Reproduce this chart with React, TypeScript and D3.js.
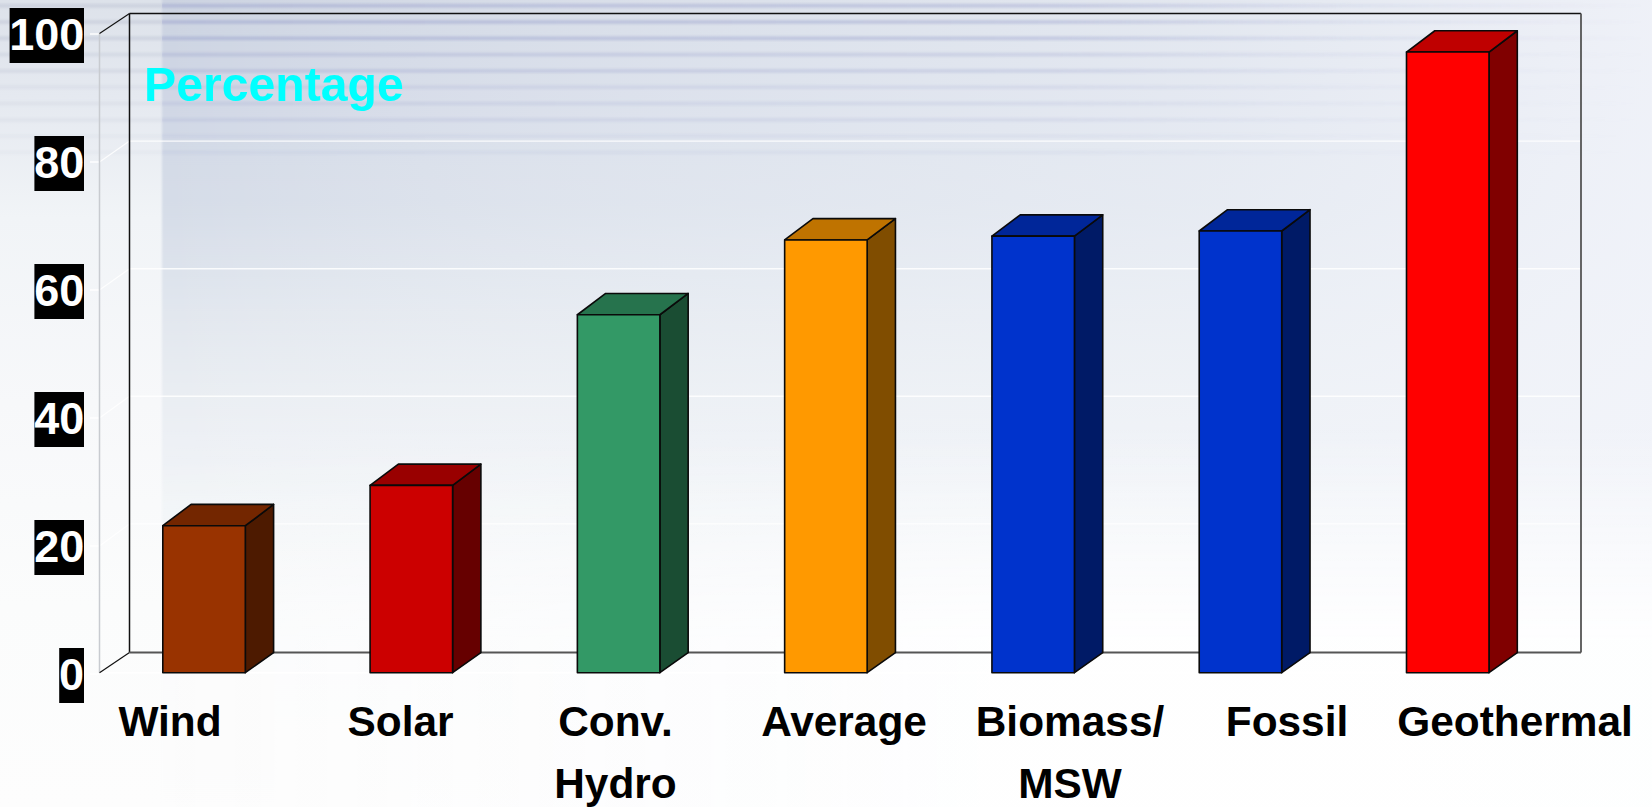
import React from "react";
import * as d3 from "d3";

// Capacity factor style comparison across generation types
const categories = ["Wind", "Solar", "Conv. Hydro", "Average", "Biomass/ MSW", "Fossil", "Geothermal"];
const percentages = [23.0, 29.3, 56.0, 67.7, 68.3, 69.1, 97.1];
const barColors = ["#993300", "#cc0000", "#339966", "#ff9900", "#0033cc", "#0033cc", "#ff0000"];
const tickValues = [0, 20, 40, 60, 80, 100];
const labelLines = [["Wind"], ["Solar"], ["Conv.", "Hydro"], ["Average"], ["Biomass/", "MSW"], ["Fossil"], ["Geothermal"]];
const labelCentres = [170, 400.5, 615.5, 844, 1070, 1287, 1515];

const WIDTH = 1652;
const HEIGHT = 807;
const FONT = "'Liberation Sans', Arial, sans-serif";

// Depth of the 3D box and of the chart walls
const DX = 28.3;
const DY_TOP = 21.3;
const DY_BASE = 20;
const WALL_DX = 30;

const yFront = d3.scaleLinear().domain([0, 100]).range([672.7, 33.5]);
const yTick = d3.scaleLinear().domain([0, 100]).range([674, 34]);
const yBack = d3.scaleLinear().domain([0, 100]).range([651.5, 13.5]);
const x = d3.scaleBand<string>().domain(categories).range([162.8, 1489]).paddingInner(0.602).paddingOuter(0);

const polygon = d3.line<[number, number]>().curve(d3.curveLinearClosed);
const shade = (c: string, k: number) => {
  const rgb = d3.rgb(c);
  return d3.rgb(rgb.r * k, rgb.g * k, rgb.b * k).formatHex();
};

// Banding across the top of the slide backdrop
const streakRows = d3.range(0, 10).map((i) => ({
  y: 5.7 + i * 16.3,
  strength: i < 3 ? 0.9 : i < 5 ? 0.62 : i < 8 ? 0.38 : 0.22,
}));

function Backdrop() {
  return (
    <g>
      <defs>
        <linearGradient id="stripFill" x1="0" y1="0" x2="0" y2="1">
          <stop offset="0" stopColor="#dde2ea" />
          <stop offset="0.12" stopColor="#e5e9f0" />
          <stop offset="0.27" stopColor="#f1f4f7" />
          <stop offset="0.5" stopColor="#f7f8fa" />
          <stop offset="0.75" stopColor="#fbfcfc" />
          <stop offset="1" stopColor="#fdfdfd" />
        </linearGradient>
        <linearGradient id="panelFill" x1="0" y1="0" x2="0" y2="1">
          <stop offset="0" stopColor="#ccd3e1" />
          <stop offset="0.13" stopColor="#d0d7e5" />
          <stop offset="0.26" stopColor="#d6dde8" />
          <stop offset="0.38" stopColor="#e1e6ee" />
          <stop offset="0.5" stopColor="#eaeef3" />
          <stop offset="0.62" stopColor="#f1f4f7" />
          <stop offset="0.75" stopColor="#f8f9fa" />
          <stop offset="1" stopColor="#fcfcfc" />
        </linearGradient>
        <linearGradient id="panelFade" gradientUnits="userSpaceOnUse" x1="162" y1="0" x2={WIDTH} y2="0">
          <stop offset="0" stopColor="#ffffff" stopOpacity="0" />
          <stop offset="0.35" stopColor="#f2f5f9" stopOpacity="0.38" />
          <stop offset="0.7" stopColor="#f1f4f9" stopOpacity="0.62" />
          <stop offset="1" stopColor="#f2f4fa" stopOpacity="0.9" />
        </linearGradient>
        <linearGradient id="floorWash" gradientUnits="userSpaceOnUse" x1="0" y1="430" x2="0" y2="640">
          <stop offset="0" stopColor="#ffffff" stopOpacity="0" />
          <stop offset="1" stopColor="#ffffff" stopOpacity="0.92" />
        </linearGradient>
        <linearGradient id="floorReach" gradientUnits="userSpaceOnUse" x1="162" y1="0" x2="1000" y2="0">
          <stop offset="0" stopColor="#ffffff" stopOpacity="0.35" />
          <stop offset="1" stopColor="#ffffff" stopOpacity="1" />
        </linearGradient>
        <mask id="floorMask" maskUnits="userSpaceOnUse" x="162" y="0" width={WIDTH - 162} height={HEIGHT}>
          <rect x={162} y={0} width={WIDTH - 162} height={HEIGHT} fill="url(#floorReach)" />
        </mask>
        <linearGradient id="streakFade" gradientUnits="userSpaceOnUse" x1="162" y1="0" x2={WIDTH} y2="0">
          <stop offset="0" stopColor="#989fcc" stopOpacity="0.5" />
          <stop offset="0.6" stopColor="#989fcc" stopOpacity="0.42" />
          <stop offset="0.8" stopColor="#a0a7d2" stopOpacity="0.16" />
          <stop offset="1" stopColor="#a0a7d2" stopOpacity="0" />
        </linearGradient>
        <filter id="soft" x="-2%" y="-300%" width="104%" height="700%">
          <feGaussianBlur stdDeviation="0.6 1" />
        </filter>
        <filter id="softEdge" x="-5%" y="-2%" width="110%" height="104%">
          <feGaussianBlur stdDeviation="1 0" />
        </filter>
      </defs>
      <rect x={0} y={0} width={WIDTH} height={HEIGHT} fill="url(#stripFill)" />
      {streakRows.map((r) => (
        <rect key={`s${r.y}`} x={0} y={r.y - 2} width={162} height={4} fill="#a7aec4" opacity={r.strength * 0.32} filter="url(#soft)" />
      ))}
      <g filter="url(#softEdge)">
        <rect x={162} y={0} width={WIDTH - 162} height={HEIGHT} fill="url(#panelFill)" />
      </g>
      <rect x={162} y={0} width={WIDTH - 162} height={HEIGHT} fill="url(#panelFade)" />
      {streakRows.map((r) => (
        <rect key={r.y} x={162} y={r.y - 2} width={WIDTH - 162} height={4} fill="url(#streakFade)" opacity={r.strength} filter="url(#soft)" />
      ))}
      <rect x={162} y={430} width={WIDTH - 162} height={HEIGHT - 430} fill="url(#floorWash)" mask="url(#floorMask)" />
    </g>
  );
}

function Walls() {
  const xFront = 99.5;
  const xBack = xFront + WALL_DX;
  const xRight = 1581;
  return (
    <g fill="none">
      {tickValues.filter((v) => v > 0 && v < 100).map((v) => (
        <g key={v} stroke="#ffffff">
          <line x1={xBack} x2={xRight} y1={yBack(v)} y2={yBack(v)} strokeWidth={1.4} strokeOpacity={0.85} />
          <line x1={xFront} x2={xBack} y1={yTick(v)} y2={yBack(v)} strokeWidth={1.2} strokeOpacity={0.85} />
        </g>
      ))}
      {tickValues.map((v) => (
        <line key={`t${v}`} x1={90} x2={xFront} y1={yTick(v)} y2={yTick(v)} stroke="#ffffff" strokeWidth={1.4} />
      ))}
      <line x1={xFront} x2={xFront} y1={yFront(100)} y2={yFront(0)} stroke="#c8cbd0" strokeWidth={1.5} />
      <line x1={xFront} x2={1489} y1={yFront(0)} y2={yFront(0)} stroke="#ffffff" strokeWidth={1.4} />
      <line x1={xFront} x2={xBack} y1={yFront(0)} y2={yBack(0) + 1} stroke="#111111" strokeWidth={1.2} />
      <line x1={xFront} x2={xBack} y1={yFront(100)} y2={yBack(100)} stroke="#111111" strokeWidth={1.2} />
      <line x1={xBack} x2={xBack} y1={yBack(100)} y2={yBack(0) + 1} stroke="#111111" strokeWidth={1.5} />
      <line x1={xBack} x2={xRight} y1={yBack(100)} y2={yBack(100)} stroke="#111111" strokeWidth={1.5} />
      <line x1={xRight} x2={xRight} y1={yBack(100)} y2={yBack(0) + 1} stroke="#555555" strokeWidth={1.8} />
      <line x1={xBack} x2={xRight} y1={yBack(0) + 1} y2={yBack(0) + 1} stroke="#555555" strokeWidth={1.8} />
    </g>
  );
}

function Bars() {
  const w = x.bandwidth();
  const base = yFront(0);
  return (
    <g stroke="#0a0a0a" strokeWidth={1.6} strokeLinejoin="round">
      {categories.map((name, i) => {
        const left = x(name) as number;
        const right = left + w;
        const top = yFront(percentages[i]);
        const color = barColors[i];
        const front: [number, number][] = [[left, top], [right, top], [right, base], [left, base]];
        const lid: [number, number][] = [[left, top], [left + DX, top - DY_TOP], [right + DX, top - DY_TOP], [right, top]];
        const side: [number, number][] = [[right, top], [right + DX, top - DY_TOP], [right + DX, base - DY_BASE], [right, base]];
        return (
          <g key={name}>
            <path d={polygon(side) as string} fill={shade(color, 0.5)} />
            <path d={polygon(lid) as string} fill={shade(color, 0.75)} />
            <path d={polygon(front) as string} fill={color} />
          </g>
        );
      })}
    </g>
  );
}

function TickLabels() {
  const digitWidth = 24.8;
  return (
    <g fontFamily={FONT} fontWeight={700} fontSize={45}>
      {tickValues.map((v) => {
        const label = String(v);
        const boxW = label.length * digitWidth;
        return (
          <g key={v}>
            <rect x={84 - boxW} y={yTick(v) - 26} width={boxW} height={55} fill="#000000" />
            <text x={84 - boxW / 2} y={yTick(v) + 15.5} textAnchor="middle" fill="#ffffff">{label}</text>
          </g>
        );
      })}
    </g>
  );
}

function CategoryLabels() {
  return (
    <g fontFamily={FONT} fontWeight={700} fontSize={42.4} fill="#000000" textAnchor="middle">
      {labelLines.map((lines, i) =>
        lines.map((line, j) => (
          <text key={line} x={labelCentres[i]} y={735.5 + j * 62.5}>{line}</text>
        ))
      )}
    </g>
  );
}

export default function App() {
  return (
    <svg
      width={WIDTH}
      height={HEIGHT}
      viewBox={`0 0 ${WIDTH} ${HEIGHT}`}
      style={{ position: "absolute", left: 0, top: 0, display: "block" }}
    >
      <Backdrop />
      <Walls />
      <Bars />
      <TickLabels />
      <CategoryLabels />
      <text x={144} y={101} fontFamily={FONT} fontWeight={700} fontSize={48.2} fill="#00ffff">Percentage</text>
    </svg>
  );
}
